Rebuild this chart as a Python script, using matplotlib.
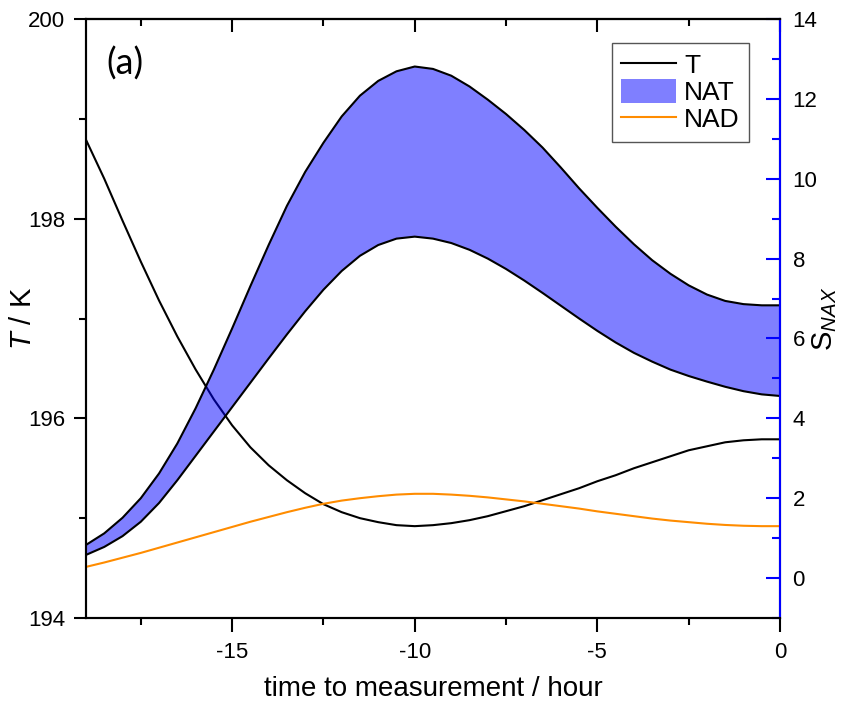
import numpy as np
import matplotlib
matplotlib.use("Agg")
import matplotlib.pyplot as plt
from matplotlib.lines import Line2D
from matplotlib.patches import Patch
from matplotlib.ticker import MultipleLocator

plt.rcParams['font.family'] = ['Liberation Sans', 'DejaVu Sans']
plt.rcParams['mathtext.fontset'] = 'custom'
plt.rcParams['mathtext.rm'] = 'Liberation Sans'
plt.rcParams['mathtext.it'] = 'Liberation Sans:italic'
plt.rcParams['axes.unicode_minus'] = False

# time axis (hours before measurement), half-hour steps
hours = np.linspace(-19.0, 0.0, 39)

# temperature along the trajectory (K)
temperature = [198.79, 198.40, 197.98, 197.57, 197.18, 196.82, 196.49, 196.19,
               195.93, 195.71, 195.53, 195.38, 195.25, 195.14, 195.06, 195.00,
               194.96, 194.93, 194.92, 194.93, 194.95, 194.98, 195.02, 195.07,
               195.12, 195.18, 195.24, 195.30, 195.37, 195.43, 195.50, 195.56,
               195.62, 195.68, 195.72, 195.76, 195.78, 195.79, 195.79]

# NAT saturation ratio range (upper and lower bound)
nat_upper = [0.83, 1.12, 1.51, 2.00, 2.62, 3.37, 4.25, 5.22, 6.25, 7.31,
             8.34, 9.32, 10.17, 10.90, 11.56, 12.08, 12.45, 12.69, 12.81,
             12.75, 12.58, 12.31, 11.98, 11.62, 11.22, 10.78, 10.28, 9.76,
             9.27, 8.80, 8.36, 7.96, 7.62, 7.33, 7.10, 6.94, 6.86, 6.83, 6.83]
nat_lower = [0.58, 0.78, 1.05, 1.41, 1.88, 2.45, 3.06, 3.67, 4.28, 4.89,
             5.50, 6.10, 6.68, 7.22, 7.69, 8.07, 8.34, 8.50, 8.55, 8.50,
             8.39, 8.22, 8.00, 7.74, 7.45, 7.14, 6.82, 6.50, 6.19, 5.90,
             5.64, 5.42, 5.22, 5.06, 4.92, 4.79, 4.68, 4.60, 4.56]

# NAD saturation ratio
nad = [0.28, 0.39, 0.51, 0.63, 0.76, 0.89, 1.02, 1.15, 1.28, 1.41, 1.53,
       1.65, 1.76, 1.86, 1.94, 2.00, 2.05, 2.09, 2.11, 2.11, 2.09, 2.06,
       2.02, 1.97, 1.92, 1.86, 1.80, 1.74, 1.67, 1.61, 1.55, 1.49, 1.44,
       1.40, 1.36, 1.33, 1.31, 1.30, 1.30]

fig = plt.figure(figsize=(8.59, 7.02), dpi=100)
ax = fig.add_axes([86 / 859, 1 - 618 / 702, 694 / 859, 599 / 702])
ax2 = ax.twinx()

lw = 1.5
ax.plot(hours, temperature, color='black', lw=lw)

ax2.fill_between(hours, nat_lower, nat_upper, facecolor='blue', alpha=0.5,
                 edgecolor='none')
ax2.plot(hours, nat_upper, color='black', lw=lw)
ax2.plot(hours, nat_lower, color='black', lw=lw)
ax2.plot(hours, nad, color='#ff8c00', lw=lw)

ax.set_xlim(-19, 0)
ax.set_ylim(194, 200)
ax2.set_ylim(-1, 14)

ax.xaxis.set_major_locator(MultipleLocator(5))
ax.xaxis.set_minor_locator(MultipleLocator(2.5))
ax.yaxis.set_major_locator(MultipleLocator(2))
ax.yaxis.set_minor_locator(MultipleLocator(1))
ax2.yaxis.set_major_locator(MultipleLocator(2))
ax2.yaxis.set_minor_locator(MultipleLocator(1))
ax2.set_yticks(np.arange(0, 15, 2))

for a in (ax, ax2):
    for s in a.spines.values():
        s.set_linewidth(1.5)

ax.tick_params(axis='x', which='both', direction='out', top=False,
               labelsize=16, width=1.5, pad=7)
ax.tick_params(axis='x', which='major', length=10)
ax.tick_params(axis='x', which='minor', length=5)
ax.tick_params(axis='y', which='both', direction='out', labelsize=16,
               width=1.5, pad=6)
ax.tick_params(axis='y', which='major', length=9)
ax.tick_params(axis='y', which='minor', length=5)

# inward ticks along the top edge
top = ax.secondary_xaxis('top')
top.xaxis.set_major_locator(MultipleLocator(5))
top.xaxis.set_minor_locator(MultipleLocator(2.5))
top.tick_params(which='both', direction='in', labeltop=False, width=1.5)
top.tick_params(which='major', length=9)
top.tick_params(which='minor', length=5)
top.spines['top'].set_linewidth(1.5)

blue = '#0000ff'
ax2.spines['right'].set_color(blue)
ax2.tick_params(axis='y', which='both', direction='in', color=blue,
                labelcolor='black', labelsize=16, width=1.5, pad=9)
ax2.tick_params(axis='y', which='major', length=10)
ax2.tick_params(axis='y', which='minor', length=6)

ax.set_xlabel('time to measurement / hour', fontsize=20, labelpad=10)
ax.set_ylabel(r'$T$ / K', fontsize=21)
ax.yaxis.set_label_coords(-0.071, 0.5)
ax2.set_ylabel(r'S$_{\mathit{NAX}}$', fontsize=21)
ax2.yaxis.set_label_coords(1.044, 0.5)

ax.text(0.03, 0.925, '(a)', transform=ax.transAxes, fontsize=26,
        family=['Lato', 'DejaVu Sans'], va='center', ha='left')

handles = [Line2D([], [], color='black', lw=lw),
           Patch(facecolor='blue', alpha=0.5, edgecolor='none'),
           Line2D([], [], color='#ff8c00', lw=lw)]
leg = ax2.legend(handles, ['T', 'NAT', 'NAD'], loc='upper right',
                 bbox_to_anchor=(1 - 31 / 694, 1 - 24 / 599), fontsize=19,
                 frameon=True, fancybox=False, framealpha=1,
                 edgecolor='#555555', handlelength=2.1, handleheight=1.0,
                 handletextpad=0.3, labelspacing=0.05, borderpad=0.35,
                 borderaxespad=0)
leg.get_frame().set_linewidth(1.0)

fig.savefig('out.png', dpi=100)
